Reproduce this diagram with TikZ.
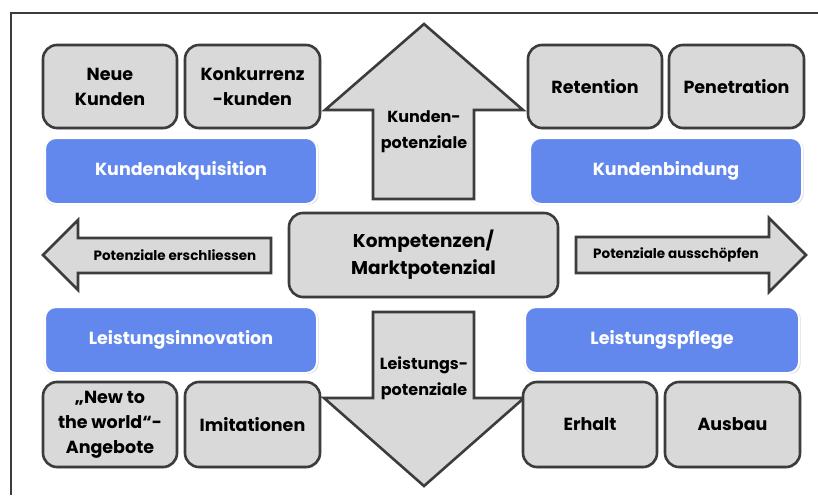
\documentclass[tikz,border=0pt]{standalone}
\usepackage{fontspec}
\setmainfont{Poppins}
\usetikzlibrary{shadows}
\definecolor{boxgray}{RGB}{217,217,217}
\definecolor{edgegray}{RGB}{60,60,60}
\definecolor{bluefill}{RGB}{98,136,238}
\tikzset{
  graybox/.style={draw=edgegray, line width=2.6pt, fill=boxgray, rounded corners=14pt,
    align=center, font=\fontsize{17.5}{25}\selectfont\bfseries, text=black,
    drop shadow={opacity=0.25, shadow xshift=1pt, shadow yshift=-1.5pt}},
  bluebox/.style={draw=white, line width=2pt, fill=bluefill, rounded corners=11pt,
    align=center, font=\fontsize{17.5}{25}\selectfont\bfseries, text=white,
    minimum width=272pt, minimum height=66pt,
    drop shadow={opacity=0.3, shadow xshift=0.3pt, shadow yshift=-0.8pt, shadow scale=1.01}},
  bigarrow/.style={draw=edgegray, line width=2.6pt, fill=boxgray, line join=miter},
  arrowlabel/.style={align=center, font=\fontsize{16}{26}\selectfont\bfseries, text=black},
  sidelabel/.style={font=\fontsize{13.5}{15}\selectfont\bfseries, text=black},
  frameline/.style={draw=edgegray, line width=2pt}
}
\begin{document}
\begin{tikzpicture}[x=1pt, y=-1pt]
\useasboundingbox (0,0) rectangle (818,495);
\fill[white] (0,0) rectangle (818,495);
% frame
\draw[frameline] (11,495) -- (11,13) -- (818,13);
% big arrows
\draw[bigarrow] (373,199) -- (373,110) -- (325,110) -- (424,24) -- (523,110) -- (474,110) -- (474,199) -- cycle;
\draw[bigarrow] (373,312) -- (474,312) -- (474,398) -- (524,398) -- (424,486) -- (324,398) -- (373,398) -- cycle;
\draw[bigarrow] (271,238) -- (78,238) -- (78,220) -- (43,255) -- (78,290) -- (78,273) -- (271,273) -- cycle;
\draw[bigarrow] (576,237) -- (769,237) -- (769,218) -- (806,255) -- (769,292) -- (769,273) -- (576,273) -- cycle;
\node[arrowlabel] (kpot) at (424,132) {Kunden-\\potenziale};
\node[arrowlabel] (lpot) at (424,378) {Leistungs-\\potenziale};
\node[sidelabel] (erschl) at (175,255) {Potenziale erschliessen};
\node[sidelabel] (aussch) at (676,255) {Potenziale ausschöpfen};
% top row
\node[graybox, minimum width=134pt, minimum height=83pt] (neue) at (110,86.5) {Neue\\Kunden};
\node[graybox, minimum width=135pt, minimum height=83pt] (konk) at (252.5,86.5) {Konkurrenz\\-kunden};
\node[graybox, minimum width=134pt, minimum height=83pt] (ret) at (595,86.5) {Retention};
\node[graybox, minimum width=135pt, minimum height=83pt] (pen) at (736.5,86.5) {Penetration};
% blue
\node[bluebox] (akq) at (181,171) {Kundenakquisition};
\node[bluebox] (bind) at (666,171) {Kundenbindung};
\node[bluebox] (linnov) at (181,340) {Leistungsinnovation};
\node[bluebox, minimum width=274pt] (lpfl) at (662,340) {Leistungspflege};
% center
\node[graybox, minimum width=269pt, minimum height=84pt, font=\fontsize{18.5}{27}\selectfont\bfseries] (komp) at (423.5,255) {Kompetenzen/\\Marktpotenzial};
% bottom row
\node[graybox, minimum width=134pt, minimum height=85pt] (new) at (110,424.5) {„New to\\the world“-\\Angebote};
\node[graybox, minimum width=135pt, minimum height=85pt] (imit) at (252.5,424.5) {Imitationen};
\node[graybox, minimum width=134pt, minimum height=85pt] (erh) at (590,424.5) {Erhalt};
\node[graybox, minimum width=135pt, minimum height=85pt] (ausb) at (732.5,424.5) {Ausbau};
\end{tikzpicture}
\end{document}
